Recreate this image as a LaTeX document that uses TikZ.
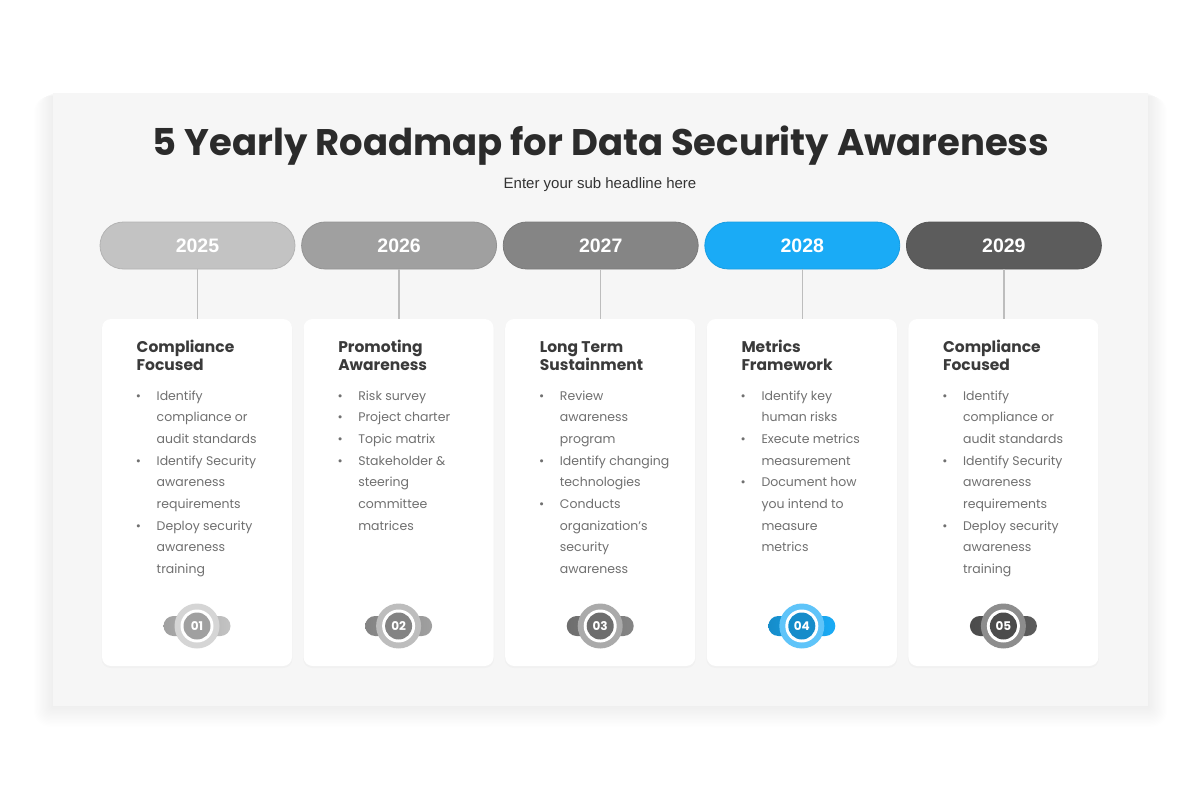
\documentclass[tikz,border=0pt]{standalone}
\usepackage{fontspec}
\setmainfont{Poppins}
\newfontfamily\yrfont{Liberation Sans}
\definecolor{panel}{HTML}{F6F6F6}
\definecolor{titlec}{HTML}{2B2B2B}
\definecolor{subc}{HTML}{333333}
\definecolor{headc}{HTML}{3A3A3A}
\definecolor{bodyc}{HTML}{707070}
\definecolor{connc}{HTML}{BDBDBD}
\definecolor{ca}{HTML}{C3C3C3}
\definecolor{cb}{HTML}{A0A0A0}
\definecolor{cc}{HTML}{858585}
\definecolor{cd}{HTML}{1AABF6}
\definecolor{ce}{HTML}{5C5C5C}
\tikzset{
  pill/.style={rounded corners=23.5pt, minimum width=195pt, minimum height=47pt, inner sep=0pt,
    line width=0.8pt, text=white, font=\yrfont\bfseries\fontsize{19.5}{21}\selectfont},
  card/.style={fill=white, rounded corners=9pt, minimum width=190pt, minimum height=347pt, inner sep=0pt},
  conn/.style={draw=connc, line width=1.4pt},
  head/.style={text=headc, inner sep=0pt, font=\bfseries\fontsize{15.5}{18}\selectfont},
  body/.style={text=bodyc, inner sep=0pt, font=\fontsize{12.5}{15}\selectfont},
  badgepill/.style={minimum width=67pt, minimum height=20pt, rounded corners=10pt, inner sep=0pt},
  ring/.style={circle, inner sep=0pt},
  numst/.style={circle, inner sep=0pt, text=white, font=\bfseries\fontsize{12}{13}\selectfont}
}
\newcommand{\cardhead}[3]{%
  \node[head, anchor=base west] (h#1a) at ({201.6*#1+136.5},352.5) {#2};
  \node[head, anchor=base west] (h#1b) at ({201.6*#1+136.5},370.5) {#3};}
\newcommand{\cardtext}[2]{%
  \foreach \k/\b/\t in {#2}{%
    \node[body, anchor=base west] (t#1-\k) at ({201.6*#1+156.5},{400+21.7*\k}) {\t};
    \ifnum\b=1 \node[body, anchor=base] (u#1-\k) at ({201.6*#1+138.5},{400+21.7*\k}) {•};\fi
  }}
\begin{document}
\begin{tikzpicture}[x=1pt,y=-1pt]
\useasboundingbox[fill=white] (0,0) rectangle (1200,800);
% panel shadow (soft, mostly below)
\foreach \s in {1,...,16}{
  \fill[black, opacity=0.0035, rounded corners={\s*1pt}] ({53-\s*1.2},{93+\s*0.2}) rectangle ({1148+\s*1.2},{706+\s*1.3});
}
\node[fill=panel, minimum width=1095pt, minimum height=613pt, inner sep=0pt, anchor=north west] (panel) at (53,93) {};
% titles
\node[text=titlec, anchor=base, inner sep=0pt, font=\bfseries\fontsize{37}{40}\selectfont] (title) at (601,155) {5 Yearly Roadmap for Data Security Awareness};
\node[text=subc, anchor=base, inner sep=0pt, font=\yrfont\fontsize{15}{18}\selectfont] (sub) at (600,188) {Enter your sub headline here};
% columns
\foreach \i/\yr/\col/\n in {0/2025/ca/01,1/2026/cb/02,2/2027/cc/03,3/2028/cd/04,4/2029/ce/05}{
  \fill[black, opacity=0.02, rounded corners=9pt] ({197+201.6*\i-95.5},320.5) rectangle ({197+201.6*\i+95.5},668) ;
  \node[card] (c\i) at ({197+201.6*\i},492.5) {};
  \node[pill, fill=\col, draw=\col!92!black] (y\i) at ({197.5+201.6*\i},245.5) {\yr};
  \draw[conn] (y\i.south) -- (y\i.south |- c\i.north);
  \node[badgepill, left color=\col!82!black, right color=\col] (bp\i) at ({197+201.6*\i},626) {};
  \node[ring, minimum size=45pt, fill=\col!70!white] (bo\i) at ({197+201.6*\i},626) {};
  \node[ring, minimum size=33pt, fill=white] (bw\i) at ({197+201.6*\i},626) {};
  \node[numst, minimum size=27pt, fill=\col!82!black] (bn\i) at ({197+201.6*\i},626) {\n};
}
\cardhead{0}{Compliance}{Focused}
\cardtext{0}{0/1/Identify,1/0/compliance or,2/0/audit standards,3/1/Identify Security,4/0/awareness,5/0/requirements,6/1/Deploy security,7/0/awareness,8/0/training}
\cardhead{1}{Promoting}{Awareness}
\cardtext{1}{0/1/Risk survey,1/1/Project charter,2/1/Topic matrix,3/1/Stakeholder \&,4/0/steering,5/0/committee,6/0/matrices}
\cardhead{2}{Long Term}{Sustainment}
\cardtext{2}{0/1/Review,1/0/awareness,2/0/program,3/1/Identify changing,4/0/technologies,5/1/Conducts,6/0/organization's,7/0/security,8/0/awareness}
\cardhead{3}{Metrics}{Framework}
\cardtext{3}{0/1/Identify key,1/0/human risks,2/1/Execute metrics,3/0/measurement,4/1/Document how,5/0/you intend to,6/0/measure,7/0/metrics}
\cardhead{4}{Compliance}{Focused}
\cardtext{4}{0/1/Identify,1/0/compliance or,2/0/audit standards,3/1/Identify Security,4/0/awareness,5/0/requirements,6/1/Deploy security,7/0/awareness,8/0/training}
\end{tikzpicture}
\end{document}
